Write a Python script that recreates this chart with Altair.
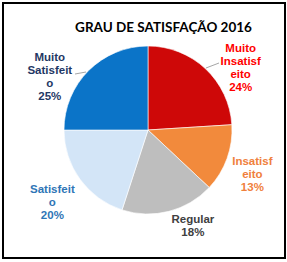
import altair as alt
import pandas as pd

title_text = "GRAU DE SATISFAÇÃO 2016"
categories = ["Muito Insatisfeito", "Insatisfeito", "Regular", "Satisfeito", "Muito Satisfeito"]
label_text = ["Muito\nInsatisf\neito", "Insatisf\neito", "Regular", "Satisfeit\no", "Muito\nSatisfeit\no"]
values = [24, 13, 18, 20, 25]
slice_colors = ["#CE0808", "#F28A3C", "#BEBEBE", "#D3E5F7", "#0B74C8"]
text_colors = ["#FF0000", "#F0803C", "#404040", "#2E75B6", "#1F3864"]
# label nudges (px) away from slice midpoint, as Excel's best-fit placement
label_dx = [16, -1, 17, -5, -19]
label_dy = [20, 7, -12, 7, 27]

df = pd.DataFrame({
    "cat": categories,
    "value": values,
    "idx": list(range(len(categories))),
    "label": [f"{t}\n{v}%" for t, v in zip(label_text, values)],
})

CX, CY, R, LR, LH = 145, 127, 84, 112, 13

pie = alt.Chart(df).mark_arc(radius=R, stroke="white", strokeWidth=0.6).encode(
    theta=alt.Theta("value:Q", stack=True, scale=alt.Scale(domain=[0, 100])),
    color=alt.Color("cat:N", scale=alt.Scale(domain=categories, range=slice_colors), legend=None),
    order=alt.Order("idx:Q"),
    x=alt.value(CX),
    y=alt.value(CY),
)

layers = [pie]
for i in range(len(categories)):
    nlines = len(df["label"][i].split("\n"))
    t = (
        alt.Chart(df)
        .transform_window(cum="sum(value)", sort=[alt.SortField("idx")])
        .transform_calculate(mid="datum.cum - datum.value / 2")
        .transform_filter(f"datum.idx == {i}")
        .mark_text(
            radius=LR, dx=label_dx[i], dy=label_dy[i] - (nlines - 1) * LH / 2,
            color=text_colors[i],
            lineBreak="\n", font="Liberation Sans", fontWeight="bold",
            fontSize=11.5, lineHeight=LH, align="center", baseline="middle",
        )
        .encode(
            theta=alt.Theta("mid:Q", scale=alt.Scale(domain=[0, 100])),
            text="label:N",
            x=alt.value(CX),
            y=alt.value(CY),
        )
    )
    layers.append(t)

title_df = pd.DataFrame({"t": [title_text]})
title = alt.Chart(title_df).mark_text(
    font="Lato", fontWeight="bold", fontSize=13.5, color="#000000",
    align="center", baseline="middle",
).encode(text="t:N", x=alt.value(160.5), y=alt.value(24.5))

lines_df = pd.DataFrame({"k": [0]})
lead1 = alt.Chart(lines_df).mark_rule(color="#A6A6A6", strokeWidth=1).encode(
    x=alt.value(203), x2=alt.value(216), y=alt.value(65), y2=alt.value(60))
lead2 = alt.Chart(lines_df).mark_rule(color="#A6A6A6", strokeWidth=1).encode(
    x=alt.value(72), x2=alt.value(83), y=alt.value(71), y2=alt.value(69))

chart = alt.layer(*layers, title, lead1, lead2).properties(
    width=282, height=255,
    padding={"left": 3, "top": 3, "right": 2, "bottom": 4},
    autosize=alt.AutoSizeParams(type="none"),
    background="white",
).configure_view(stroke="black", strokeWidth=2)

chart.save("out.html", embed_options={"renderer": "svg", "actions": False})
